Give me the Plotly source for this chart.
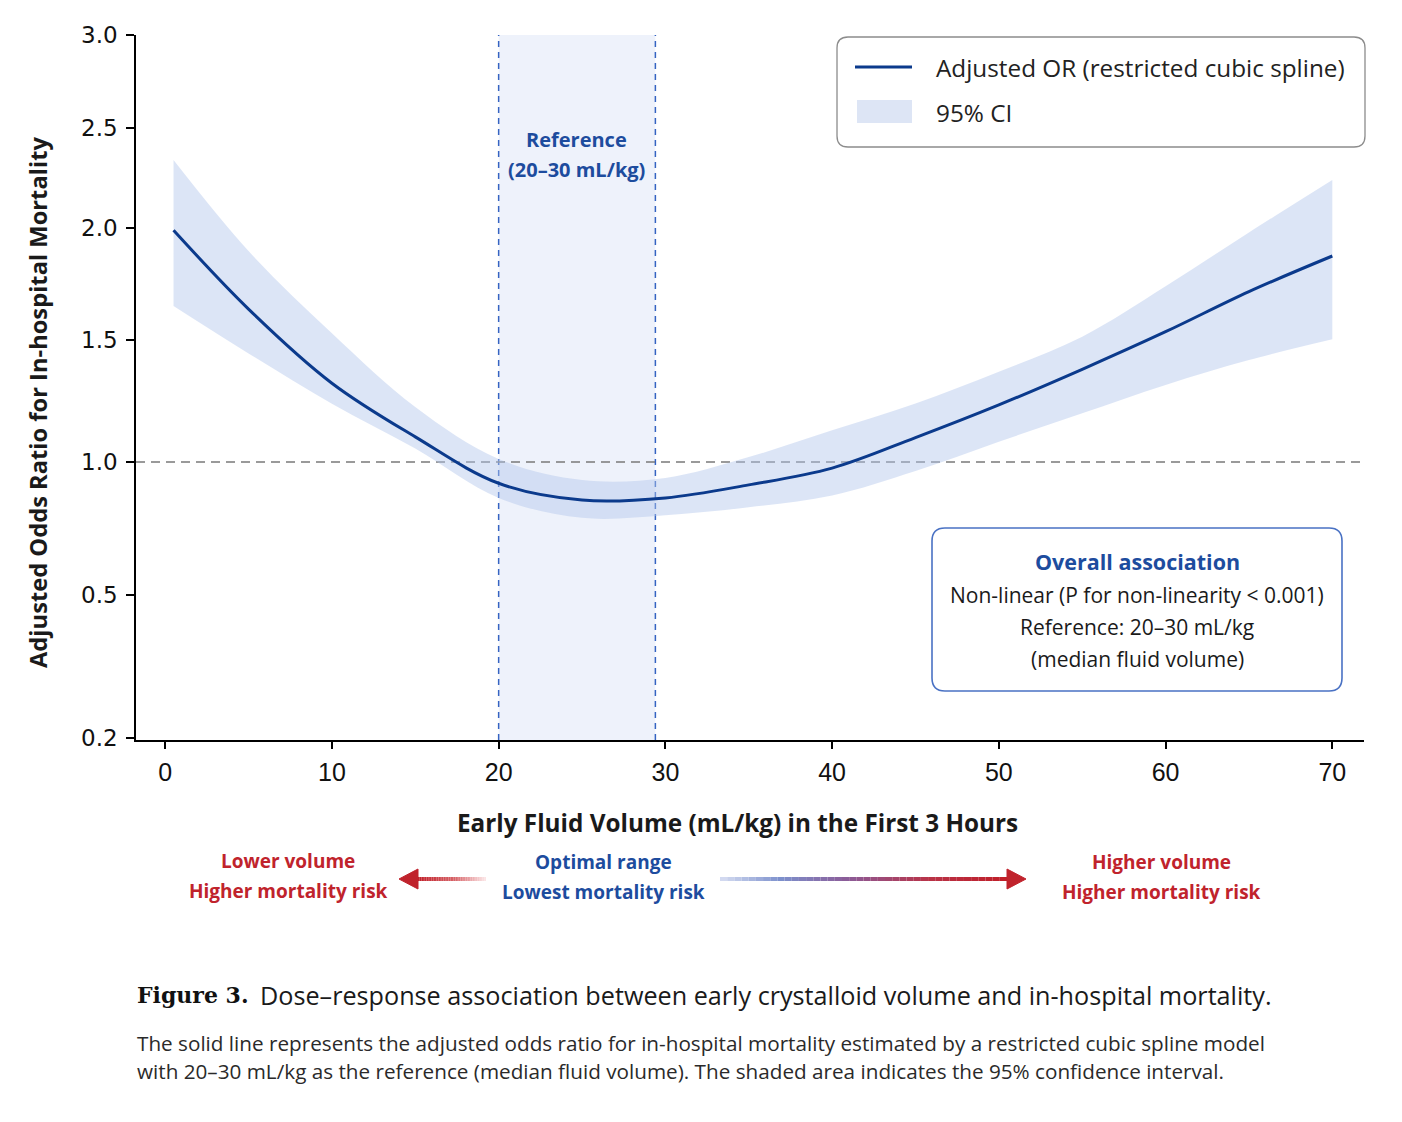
import numpy as np
import plotly.graph_objects as go

volume = [0.5, 5, 10, 15, 20, 25, 30, 35, 40, 45, 50, 55, 60, 65, 70]
odds_ratio = [1.99, 1.638, 1.323, 1.103, 0.92, 0.857, 0.865, 0.914, 0.977,
              1.10, 1.234, 1.38, 1.537, 1.716, 1.875]
ci_upper = [2.34, 1.897, 1.53, 1.225, 1.012, 0.932, 0.94, 1.02, 1.13,
            1.24, 1.37, 1.515, 1.74, 1.98, 2.24]
ci_lower = [1.652, 1.445, 1.239, 1.055, 0.865, 0.79, 0.80, 0.83, 0.874,
            0.966, 1.083, 1.20, 1.316, 1.418, 1.503]

ref_range = [20, 29.4]
x_ticks = [0, 10, 20, 30, 40, 50, 60, 70]
y_ticks = [0.2, 0.5, 1.0, 1.5, 2.0, 2.5, 3.0]
y_tick_labels = ["0.2", "0.5", "1.0", "1.5", "2.0", "2.5", "3.0"]

# the published y axis is unevenly spaced; where each tick sits along it
y_tick_pos = [0, 143, 276, 398, 510, 610, 703]


def to_axis(v):
    return np.interp(v, y_ticks, y_tick_pos)


# page geometry (pixels); the page body adds an 8px offset
OFF = 8
W, H = 1402, 1122
L, R, T, B = 136, 1364, 35, 740


def px(x):
    return (x - L) / (R - L)


def py(y):
    return (B - y) / (B - T)


FONT = "Open Sans"
BLUE = "#1d4c9e"
RED = "#c0232c"
NAVY = "#0b3a8c"

fig = go.Figure()

fig.add_trace(go.Scatter(x=volume, y=to_axis(ci_upper), mode="lines",
                         line=dict(width=0, shape="spline"),
                         hoverinfo="skip", showlegend=False))
fig.add_trace(go.Scatter(x=volume, y=to_axis(ci_lower), mode="lines",
                         line=dict(width=0, shape="spline"), fill="tonexty",
                         fillcolor="rgba(178,198,234,0.45)",
                         hoverinfo="skip", showlegend=False))
fig.add_trace(go.Scatter(x=volume, y=to_axis(odds_ratio), mode="lines",
                         line=dict(color=NAVY, width=3, shape="spline"),
                         showlegend=False))

shapes = []
# reference band
shapes.append(dict(type="rect", xref="x", yref="paper", x0=ref_range[0], x1=ref_range[1],
                   y0=0, y1=1, fillcolor="#eef2fb", line=dict(width=0), layer="below"))
for xv in ref_range:
    shapes.append(dict(type="line", xref="x", yref="paper", x0=xv, x1=xv, y0=0, y1=1,
                       line=dict(color="#3563c2", width=1.5, dash="6px,5px"), layer="below"))
# OR = 1 line
shapes.append(dict(type="line", xref="paper", yref="y", x0=0, x1=1,
                   y0=to_axis(1.0), y1=to_axis(1.0),
                   line=dict(color="#7a7a7a", width=1.6, dash="9px,6px"), layer="below"))


def rounded_box(x0, y0, x1, y1, r, line_color, line_width):
    pts = [("M", x0 + r, y0), ("L", x1 - r, y0), ("Q", x1, y0, x1, y0 + r),
           ("L", x1, y1 - r), ("Q", x1, y1, x1 - r, y1), ("L", x0 + r, y1),
           ("Q", x0, y1, x0, y1 - r), ("L", x0, y0 + r), ("Q", x0, y0, x0 + r, y0)]
    path = ""
    for p in pts:
        cmd, coords = p[0], p[1:]
        xy = []
        for i in range(0, len(coords), 2):
            xy.append(f"{px(coords[i]):.5f},{py(coords[i + 1]):.5f}")
        path += cmd + " ".join(xy) + " "
    return dict(type="path", xref="paper", yref="paper", path=path + "Z",
                fillcolor="white", line=dict(color=line_color, width=line_width))


# legend box
shapes.append(rounded_box(837, 37, 1365, 147, 11, "#8c8c8c", 1.3))
shapes.append(dict(type="line", xref="paper", yref="paper", x0=px(855), x1=px(912),
                   y0=py(67), y1=py(67), line=dict(color=NAVY, width=3)))
shapes.append(dict(type="rect", xref="paper", yref="paper", x0=px(857), x1=px(912),
                   y0=py(123), y1=py(100), fillcolor="#dde5f5", line=dict(width=0)))

# overall association box
shapes.append(rounded_box(932, 528, 1342, 691, 13, "#4a72c4", 1.6))


def mix(stops, xv):
    xs = [s[0] for s in stops]
    rgb = [int(round(np.interp(xv, xs, [s[1][k] for s in stops]))) for k in range(3)]
    return f"rgb({rgb[0]},{rgb[1]},{rgb[2]})"


def gradient_arrow(x_start, x_end, y, stops, head_dir, n=40):
    out = []
    for i in range(n):
        xa = x_start + (x_end - x_start) * i / n
        xb = x_start + (x_end - x_start) * (i + 1) / n
        out.append(dict(type="line", xref="paper", yref="paper", x0=px(xa), x1=px(xb),
                        y0=py(y), y1=py(y),
                        line=dict(color=mix(stops, (xa + xb) / 2), width=4)))
    tip = x_end + 19 * head_dir
    out.append(dict(type="path", xref="paper", yref="paper",
                    path=f"M{px(tip)},{py(y)} L{px(x_end)},{py(y - 10)} "
                         f"L{px(x_end)},{py(y + 10)} Z",
                    fillcolor=RED, line=dict(color=RED, width=1)))
    return out


shapes += gradient_arrow(486, 418, 879,
                         [(418, (192, 30, 40)), (455, (215, 100, 105)), (486, (252, 232, 232))], -1)
shapes += gradient_arrow(720, 1007, 879,
                         [(720, (215, 222, 242)), (780, (125, 145, 205)), (850, (140, 90, 150)),
                          (930, (185, 50, 70)), (1007, (192, 30, 40))], 1)

annotations = []


def ann(text, x, y, size, color="#1a1a1a", bold=False, xanchor="center",
        family=FONT, angle=0):
    if bold:
        text = "<b>" + text + "</b>"
    annotations.append(dict(text=text, x=px(x), y=py(y), xref="paper", yref="paper",
                            xanchor=xanchor, yanchor="middle", showarrow=False,
                            textangle=angle, font=dict(family=family, size=size, color=color)))


ann("Reference", 576, 139, 20, BLUE, bold=True)
ann("(20–30 mL/kg)", 576, 169, 20, BLUE, bold=True)

ann("Adjusted OR (restricted cubic spline)", 934, 68, 24.3, "#222222", xanchor="left")
ann("95% CI", 934, 112, 24.3, "#222222", xanchor="left")

ann("Overall association", 1137, 561, 21.5, BLUE, bold=True)
ann("Non-linear (P for non-linearity &lt; 0.001)", 1137, 595, 21)
ann("Reference: 20–30 mL/kg", 1137, 627, 21)
ann("(median fluid volume)", 1137, 659, 21)

ann("Adjusted Odds Ratio for In-hospital Mortality", 38, 403, 23.7, bold=True, angle=-90)
ann("Early Fluid Volume (mL/kg) in the First 3 Hours", 737, 822, 24.3, bold=True)

ann("Lower volume", 288, 861, 19, RED, bold=True)
ann("Higher mortality risk", 288, 891, 19, RED, bold=True)
ann("Optimal range", 603, 862, 19, BLUE, bold=True)
ann("Lowest mortality risk", 603, 892, 19, BLUE, bold=True)
ann("Higher volume", 1161, 862, 19, RED, bold=True)
ann("Higher mortality risk", 1161, 892, 19, RED, bold=True)

ann("Figure 3.", 135, 995, 22, "#111111", bold=True, xanchor="left", family="DejaVu Serif")
ann("Dose–response association between early crystalloid volume and in-hospital mortality.",
    258, 995, 25.2, "#1a1a1a", xanchor="left")
ann("The solid line represents the adjusted odds ratio for in-hospital mortality estimated "
    "by a restricted cubic spline model", 135, 1043, 20.7, "#2a2a2a", xanchor="left")
ann("with 20–30 mL/kg as the reference (median fluid volume). The shaded area indicates "
    "the 95% confidence interval.", 135, 1071, 20.7, "#2a2a2a", xanchor="left")

fig.update_layout(
    width=W - OFF, height=H - OFF,
    margin=dict(l=L - OFF, r=W - R, t=T - OFF, b=H - B, pad=0),
    paper_bgcolor="white", plot_bgcolor="white",
    shapes=shapes, annotations=annotations,
    xaxis=dict(range=[-1.75, 71.9], tickvals=x_ticks, ticks="outside", ticklen=7,
               tickwidth=1.5, tickcolor="black", showline=True, linecolor="black",
               linewidth=1.6, showgrid=False, zeroline=False, ticklabelstandoff=2,
               tickfont=dict(family="Liberation Sans", size=25, color="#111111")),
    yaxis=dict(range=[-2, 703], tickvals=y_tick_pos, ticktext=y_tick_labels,
               ticks="outside", ticklen=8, tickwidth=1.5, tickcolor="black",
               showline=True, linecolor="black", linewidth=1.6, showgrid=False,
               zeroline=False, ticklabelstandoff=4,
               tickfont=dict(family="DejaVu Sans", size=23, color="#111111")),
)

fig.write_html("out.html")
